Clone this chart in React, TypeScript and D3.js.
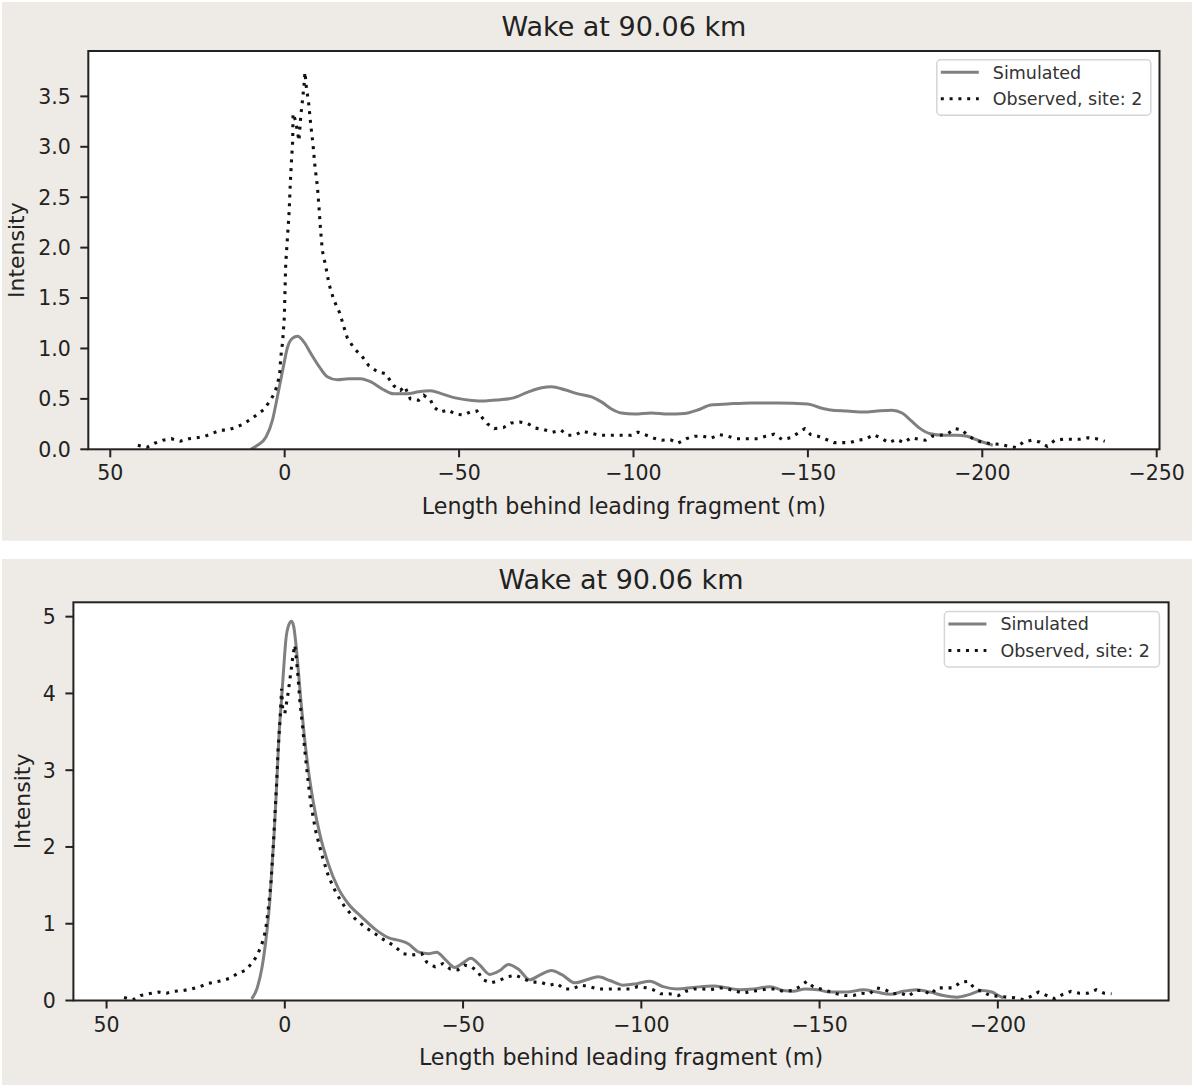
import * as d3 from 'd3';

// [length behind leading fragment (m), intensity]
const topSimulated: [number, number][] = [
    [9.7, 0.0], [7.8, 0.04], [5.4, 0.12], [3.5, 0.29], [2.1, 0.52], [0.6, 0.78],
    [-0.8, 1.01], [-2.2, 1.1], [-3.7, 1.12], [-5.6, 1.06], [-7.5, 0.95], [-9.9, 0.82],
    [-12.2, 0.72], [-15.1, 0.69], [-18.4, 0.7], [-21.8, 0.7], [-24.6, 0.67], [-27.9, 0.6],
    [-31.3, 0.55], [-35.1, 0.55], [-38.4, 0.57], [-41.8, 0.58], [-45.1, 0.55], [-48.9, 0.51],
    [-53.7, 0.485], [-57.5, 0.48], [-61.3, 0.49], [-65.6, 0.51], [-69.9, 0.57], [-73.7, 0.61],
    [-76.5, 0.62], [-80.3, 0.59], [-84.1, 0.55], [-88.0, 0.52], [-90.8, 0.47], [-93.7, 0.4],
    [-96.5, 0.36], [-100.3, 0.35], [-105.1, 0.36], [-109.9, 0.35], [-114.6, 0.355], [-118.4, 0.39],
    [-122.2, 0.44], [-127.0, 0.45], [-133.7, 0.46], [-141.3, 0.46], [-149.9, 0.45], [-153.7, 0.41],
    [-156.5, 0.39], [-161.3, 0.38], [-166.1, 0.37], [-169.9, 0.38], [-174.1, 0.387], [-177.0, 0.36],
    [-179.4, 0.29], [-182.2, 0.205], [-185.1, 0.155], [-188.9, 0.14], [-192.7, 0.14], [-195.6, 0.13],
    [-198.4, 0.095], [-200.3, 0.07], [-203.0, 0.04],
];

const topObserved: [number, number][] = [
    [42.1, 0.04], [39.5, 0.02], [37.3, 0.06], [34.9, 0.09], [32.5, 0.105], [29.9, 0.08],
    [27.5, 0.105], [25.2, 0.115], [22.8, 0.13], [20.6, 0.16], [18.4, 0.19], [16.5, 0.19],
    [14.6, 0.21], [12.2, 0.245], [10.1, 0.29], [8.1, 0.34], [6.1, 0.39], [4.4, 0.47],
    [3.0, 0.55], [2.0, 0.65], [1.4, 0.77], [1.1, 0.92], [0.6, 1.06], [0.1, 1.31],
    [-0.1, 1.58], [-0.3, 1.84], [-0.8, 2.1], [-1.3, 2.37], [-1.6, 2.63], [-1.9, 2.83],
    [-2.3, 3.06], [-2.4, 3.33], [-3.2, 3.25], [-3.6, 3.16], [-4.1, 3.06], [-4.6, 3.3],
    [-5.1, 3.46], [-5.6, 3.63], [-5.8, 3.74], [-6.3, 3.56], [-6.8, 3.46], [-7.5, 3.21],
    [-8.1, 3.03], [-8.7, 2.8], [-9.4, 2.6], [-9.9, 2.37], [-10.3, 2.17], [-10.8, 1.97],
    [-11.8, 1.81], [-12.7, 1.64], [-14.1, 1.48], [-15.8, 1.35], [-17.0, 1.21], [-17.9, 1.11],
    [-19.9, 1.0], [-22.0, 0.93], [-24.1, 0.83], [-26.5, 0.77], [-28.9, 0.75], [-31.3, 0.63],
    [-33.2, 0.585], [-34.4, 0.625], [-36.0, 0.5], [-38.4, 0.486], [-39.9, 0.535], [-41.8, 0.49],
    [-42.7, 0.42], [-44.6, 0.37], [-46.8, 0.39], [-48.9, 0.35], [-51.3, 0.34], [-53.2, 0.37],
    [-55.1, 0.38], [-56.7, 0.31], [-58.2, 0.25], [-60.1, 0.205], [-62.7, 0.215], [-64.9, 0.26],
    [-67.5, 0.27], [-69.7, 0.255], [-71.9, 0.21], [-74.4, 0.195], [-76.8, 0.17], [-79.2, 0.19],
    [-81.1, 0.14], [-83.2, 0.14], [-85.4, 0.18], [-87.8, 0.16], [-90.3, 0.14], [-92.7, 0.14],
    [-95.1, 0.14], [-97.5, 0.14], [-99.4, 0.14], [-101.3, 0.17], [-103.7, 0.14], [-105.9, 0.11],
    [-108.1, 0.09], [-110.6, 0.095], [-112.7, 0.06], [-115.1, 0.105], [-117.5, 0.13], [-119.9, 0.13],
    [-122.2, 0.11], [-124.6, 0.145], [-127.0, 0.13], [-129.4, 0.105], [-131.3, 0.105], [-133.7, 0.105],
    [-135.6, 0.105], [-137.9, 0.13], [-140.3, 0.15], [-142.7, 0.095], [-145.1, 0.115], [-147.1, 0.16],
    [-149.1, 0.205], [-150.8, 0.145], [-152.9, 0.13], [-155.1, 0.1], [-157.5, 0.066], [-159.9, 0.066],
    [-162.0, 0.066], [-164.3, 0.09], [-166.5, 0.1], [-168.9, 0.145], [-171.0, 0.11], [-173.2, 0.066],
    [-175.4, 0.1], [-177.5, 0.066], [-179.6, 0.115], [-181.8, 0.1], [-183.7, 0.09], [-185.6, 0.13],
    [-188.0, 0.14], [-190.1, 0.155], [-192.2, 0.205], [-194.1, 0.195], [-196.1, 0.13], [-198.2, 0.09],
    [-200.3, 0.066], [-202.7, 0.056], [-204.9, 0.05], [-207.5, 0.03], [-209.7, 0.017], [-211.8, 0.072],
    [-214.1, 0.09], [-216.5, 0.072], [-218.6, 0.03], [-220.8, 0.09], [-223.2, 0.1], [-225.6, 0.1],
    [-228.0, 0.1], [-230.3, 0.115], [-232.7, 0.105], [-235.1, 0.08],
];

const bottomSimulated: [number, number][] = [
    [9.3, 0.02], [7.7, 0.17], [6.4, 0.43], [5.1, 0.87], [4.2, 1.3], [3.6, 1.74],
    [3.0, 2.17], [2.5, 2.61], [2.05, 3.04], [1.6, 3.48], [0.93, 3.91], [0.28, 4.35],
    [-0.28, 4.69], [-1.1, 4.89], [-1.9, 4.94], [-2.5, 4.87], [-3.1, 4.65], [-3.7, 4.35],
    [-4.5, 3.91], [-5.4, 3.48], [-6.5, 3.04], [-7.9, 2.61], [-9.8, 2.17], [-12.2, 1.78],
    [-15.0, 1.46], [-17.8, 1.26], [-21.5, 1.09], [-25.3, 0.93], [-29.0, 0.82], [-32.3, 0.78],
    [-34.6, 0.74], [-37.6, 0.63], [-40.5, 0.61], [-42.6, 0.63], [-44.9, 0.54], [-47.7, 0.43],
    [-50.0, 0.49], [-52.2, 0.55], [-54.7, 0.46], [-57.5, 0.34], [-60.3, 0.39], [-62.7, 0.47],
    [-65.5, 0.41], [-68.7, 0.27], [-71.5, 0.33], [-74.8, 0.39], [-77.6, 0.34], [-81.4, 0.23],
    [-84.7, 0.27], [-87.9, 0.31], [-91.2, 0.26], [-94.9, 0.2], [-98.7, 0.22], [-102.4, 0.25],
    [-106.1, 0.18], [-109.9, 0.15], [-114.6, 0.17], [-120.2, 0.19], [-123.9, 0.165], [-127.7, 0.14],
    [-131.4, 0.15], [-136.1, 0.18], [-139.8, 0.13], [-142.6, 0.12], [-146.0, 0.15], [-149.5, 0.14],
    [-152.9, 0.11], [-157.6, 0.11], [-162.3, 0.14], [-166.0, 0.11], [-169.8, 0.08], [-173.5, 0.12],
    [-177.2, 0.14], [-181.0, 0.11], [-184.7, 0.065], [-188.5, 0.043], [-192.2, 0.08], [-195.5, 0.13],
    [-198.3, 0.11], [-200.2, 0.065], [-201.5, 0.035],
];

const bottomObserved: [number, number][] = [
    [45.1, 0.04], [42.6, 0.01], [40.4, 0.065], [37.9, 0.09], [35.5, 0.11], [33.2, 0.095],
    [30.9, 0.12], [28.5, 0.13], [26.2, 0.15], [23.8, 0.18], [21.7, 0.22], [19.6, 0.24],
    [17.5, 0.26], [15.4, 0.29], [13.3, 0.35], [11.2, 0.39], [9.3, 0.48], [7.7, 0.59],
    [6.4, 0.74], [5.4, 0.91], [4.7, 1.17], [3.9, 1.52], [3.3, 1.96], [2.8, 2.39],
    [2.3, 2.83], [1.9, 3.26], [1.4, 3.61], [0.9, 4.06], [0.6, 3.8], [0.0, 3.74],
    [-0.75, 3.95], [-1.4, 4.17], [-1.9, 4.35], [-2.3, 4.5], [-2.8, 4.63], [-3.3, 4.43],
    [-3.7, 4.22], [-4.2, 3.91], [-5.0, 3.56], [-5.6, 3.26], [-6.4, 2.91], [-7.3, 2.56],
    [-8.6, 2.22], [-10.3, 1.91], [-12.3, 1.61], [-14.5, 1.39], [-16.8, 1.22], [-19.6, 1.07],
    [-22.4, 0.96], [-25.3, 0.87], [-28.1, 0.78], [-30.4, 0.72], [-33.2, 0.61], [-35.5, 0.59],
    [-38.4, 0.61], [-39.8, 0.5], [-42.1, 0.44], [-44.3, 0.48], [-46.4, 0.41], [-48.6, 0.4],
    [-50.5, 0.46], [-52.4, 0.44], [-54.2, 0.37], [-55.6, 0.27], [-57.8, 0.23], [-60.1, 0.26],
    [-62.4, 0.31], [-64.8, 0.33], [-67.1, 0.28], [-69.2, 0.24], [-71.7, 0.24], [-74.2, 0.2],
    [-76.4, 0.22], [-78.3, 0.15], [-80.7, 0.15], [-83.0, 0.2], [-85.4, 0.18], [-87.7, 0.15],
    [-90.1, 0.15], [-92.4, 0.15], [-94.8, 0.15], [-96.8, 0.15], [-98.9, 0.18], [-101.3, 0.165],
    [-103.3, 0.14], [-105.4, 0.087], [-107.8, 0.087], [-110.4, 0.065], [-112.5, 0.12], [-114.8, 0.15],
    [-117.2, 0.15], [-119.4, 0.14], [-122.0, 0.165], [-124.4, 0.15], [-126.5, 0.12], [-128.8, 0.095],
    [-130.9, 0.12], [-133.1, 0.13], [-135.3, 0.15], [-137.5, 0.15], [-139.8, 0.12], [-142.4, 0.13],
    [-144.5, 0.18], [-146.4, 0.25], [-148.2, 0.18], [-150.3, 0.15], [-152.5, 0.12], [-154.8, 0.087],
    [-157.1, 0.065], [-159.5, 0.065], [-161.8, 0.095], [-164.0, 0.087], [-166.0, 0.165], [-168.4, 0.14],
    [-170.5, 0.087], [-172.8, 0.095], [-174.9, 0.056], [-177.1, 0.13], [-179.1, 0.13], [-181.2, 0.078],
    [-182.9, 0.165], [-185.2, 0.165], [-187.5, 0.165], [-189.6, 0.24], [-191.7, 0.25], [-193.6, 0.15],
    [-195.5, 0.12], [-197.8, 0.065], [-200.2, 0.056], [-202.5, 0.043], [-204.8, 0.035], [-207.2, 0.01],
    [-209.2, 0.052], [-211.4, 0.11], [-213.7, 0.065], [-216.0, 0.022], [-218.2, 0.078], [-220.5, 0.12],
    [-222.9, 0.095], [-225.2, 0.095], [-227.6, 0.14], [-229.8, 0.095], [-231.9, 0.087],
];

const topXTicks = [50, 0, -50, -100, -150, -200, -250];
const topYTicks = [0, 0.5, 1, 1.5, 2, 2.5, 3, 3.5];
const bottomXTicks = [50, 0, -50, -100, -150, -200];
const bottomYTicks = [0, 1, 2, 3, 4, 5];

const titleText = 'Wake at 90.06 km';
const xLabel = 'Length behind leading fragment (m)';
const yLabel = 'Intensity';
const legendLabels = ['Simulated', 'Observed, site: 2'];

const font = "'DejaVu Sans', sans-serif";
const panelBg = '#eeebe6';
const inkColor = '#222222';
const simColor = '#808080';
const obsColor = '#111111';
const dots = '3 5.8';

type PanelProps = {
    bgTop: number;
    bgBottom: number;
    box: { left: number; right: number; top: number; bottom: number };
    xDomain: [number, number];
    yDomain: [number, number];
    xTicks: number[];
    yTicks: number[];
    yFormat: (v: number) => string;
    simulated: [number, number][];
    observed: [number, number][];
    legendWidth: number;
    legendInset: number;
    titleY: number;
    xLabelY: number;
    yLabelX: number;
};

function Panel(p: PanelProps) {
    const { box } = p;
    const x = d3.scaleLinear().domain(p.xDomain).range([box.left, box.right]);
    const y = d3.scaleLinear().domain(p.yDomain).range([box.bottom, box.top]);

    const simLine = d3
        .line<[number, number]>()
        .x((d) => x(d[0]))
        .y((d) => y(d[1]))
        .curve(d3.curveMonotoneX);
    const obsLine = d3
        .line<[number, number]>()
        .x((d) => x(d[0]))
        .y((d) => y(d[1]));

    const xFormat = d3.format('d');
    const cx = (box.left + box.right) / 2;
    const cy = (box.top + box.bottom) / 2;
    const tickLen = 8;

    // legend box, top right inside the axes
    const lgRight = box.right - p.legendInset;
    const lgLeft = lgRight - p.legendWidth;
    const lgTop = box.top + p.legendInset;
    const lgHeight = 55.5;
    const rows = [lgTop + 12.5, lgTop + 39];

    return (
        <g>
            <rect x={2} y={p.bgTop} width={1190} height={p.bgBottom - p.bgTop} fill={panelBg} />
            <rect
                x={box.left}
                y={box.top}
                width={box.right - box.left}
                height={box.bottom - box.top}
                fill='#ffffff'
            />
            <defs>
                <clipPath id={`clip-${p.bgTop}`}>
                    <rect
                        x={box.left}
                        y={box.top}
                        width={box.right - box.left}
                        height={box.bottom - box.top}
                    />
                </clipPath>
            </defs>
            <g clipPath={`url(#clip-${p.bgTop})`}>
                <path
                    d={simLine(p.simulated) ?? ''}
                    fill='none'
                    stroke={simColor}
                    strokeWidth={3}
                    strokeLinejoin='round'
                />
                <path
                    d={obsLine(p.observed) ?? ''}
                    fill='none'
                    stroke={obsColor}
                    strokeWidth={3.1}
                    strokeDasharray={dots}
                />
            </g>
            <rect
                x={box.left}
                y={box.top}
                width={box.right - box.left}
                height={box.bottom - box.top}
                fill='none'
                stroke={inkColor}
                strokeWidth={2}
            />

            {/* x axis */}
            {p.xTicks.map((t) => (
                <g key={`x${t}`}>
                    <line
                        x1={x(t)}
                        x2={x(t)}
                        y1={box.bottom}
                        y2={box.bottom + tickLen}
                        stroke={inkColor}
                        strokeWidth={2}
                    />
                    <text
                        x={x(t)}
                        y={box.bottom + 31}
                        textAnchor='middle'
                        fontSize={20.5}
                        fill={inkColor}
                        fontFamily={font}>
                        {xFormat(t)}
                    </text>
                </g>
            ))}

            {/* y axis */}
            {p.yTicks.map((t) => (
                <g key={`y${t}`}>
                    <line
                        x1={box.left - tickLen}
                        x2={box.left}
                        y1={y(t)}
                        y2={y(t)}
                        stroke={inkColor}
                        strokeWidth={2}
                    />
                    <text
                        x={box.left - tickLen - 9.5}
                        y={y(t)}
                        dy='0.36em'
                        textAnchor='end'
                        fontSize={20.5}
                        fill={inkColor}
                        fontFamily={font}>
                        {p.yFormat(t)}
                    </text>
                </g>
            ))}

            <text
                x={cx}
                y={p.titleY}
                textAnchor='middle'
                fontSize={27}
                fill={inkColor}
                fontFamily={font}>
                {titleText}
            </text>
            <text
                x={cx}
                y={p.xLabelY}
                textAnchor='middle'
                fontSize={22.2}
                fill={inkColor}
                fontFamily={font}>
                {xLabel}
            </text>
            <text
                transform={`translate(${p.yLabelX},${cy}) rotate(-90)`}
                textAnchor='middle'
                fontSize={22}
                fill={inkColor}
                fontFamily={font}>
                {yLabel}
            </text>

            {/* legend */}
            <rect
                x={lgLeft}
                y={lgTop}
                width={p.legendWidth}
                height={lgHeight}
                rx={4}
                fill='#ffffff'
                fillOpacity={0.8}
                stroke='#d6d6d6'
                strokeWidth={1.5}
            />
            <line
                x1={lgLeft + 4}
                x2={lgLeft + 42}
                y1={rows[0]}
                y2={rows[0]}
                stroke={simColor}
                strokeWidth={3}
            />
            <line
                x1={lgLeft + 4}
                x2={lgLeft + 42}
                y1={rows[1]}
                y2={rows[1]}
                stroke={obsColor}
                strokeWidth={3.1}
                strokeDasharray={dots}
            />
            {legendLabels.map((label, i) => (
                <text
                    key={label}
                    x={lgLeft + 56}
                    y={rows[i]}
                    dy='0.36em'
                    fontSize={17.5}
                    fill='#333333'
                    fontFamily={font}>
                    {label}
                </text>
            ))}
        </g>
    );
}

export default function App() {
    return (
        <div style={{ position: 'absolute', left: 0, top: 0 }}>
            <svg width={1196} height={1091} style={{ display: 'block', background: '#ffffff' }}>
                <Panel
                    bgTop={2}
                    bgBottom={540.7}
                    box={{ left: 88.3, right: 1159.5, top: 51, bottom: 449.3 }}
                    xDomain={[56.3, -250.8]}
                    yDomain={[0, 3.95]}
                    xTicks={topXTicks}
                    yTicks={topYTicks}
                    yFormat={d3.format('.1f')}
                    simulated={topSimulated}
                    observed={topObserved}
                    legendWidth={214}
                    legendInset={8.7}
                    titleY={36}
                    xLabelY={513.5}
                    yLabelX={24}
                />
                <Panel
                    bgTop={559}
                    bgBottom={1085}
                    box={{ left: 73.4, right: 1168.6, top: 602.3, bottom: 1000.5 }}
                    xDomain={[59.3, -247.9]}
                    yDomain={[0, 5.187]}
                    xTicks={bottomXTicks}
                    yTicks={bottomYTicks}
                    yFormat={d3.format('d')}
                    simulated={bottomSimulated}
                    observed={bottomObserved}
                    legendWidth={215}
                    legendInset={9.2}
                    titleY={589}
                    xLabelY={1064.5}
                    yLabelX={29.5}
                />
            </svg>
        </div>
    );
}
